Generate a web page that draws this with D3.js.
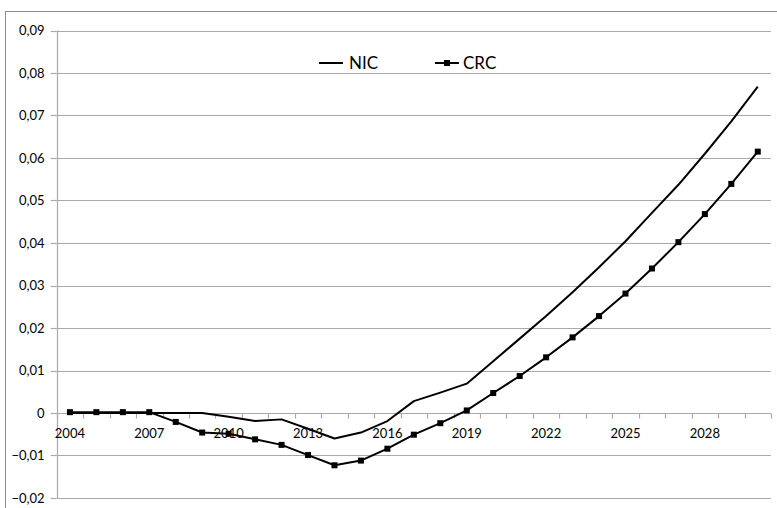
<!DOCTYPE html>
<html>
<head>
<meta charset="utf-8">
<script src="https://cdn.jsdelivr.net/npm/d3@7"></script>
<style>
  html, body { margin: 0; padding: 0; background: #fff; }
  svg { display: block; font-family: Lato, "Open Sans", sans-serif; }
</style>
</head>
<body>
<svg id="chart" width="777" height="508"></svg>
<script>
const years = d3.range(2004, 2031);
const nic = [0, 0, 0, 0, 0, 0, -0.0009, -0.0019, -0.0015, -0.0037, -0.006, -0.0046, -0.0019,
  0.0028, 0.0048, 0.0069, 0.0122, 0.0175, 0.0228, 0.0284, 0.0343, 0.0404, 0.0471,
  0.0537, 0.061, 0.0686, 0.0768];
const crc = [0.0002, 0.0002, 0.0002, 0.0002, -0.0021, -0.0046, -0.0049, -0.0062, -0.0075, -0.0099,
  -0.0123, -0.0112, -0.0084, -0.0051, -0.0024, 0.0006, 0.0047, 0.0087, 0.0131, 0.0178,
  0.0228, 0.0281, 0.034, 0.0402, 0.0468, 0.0539, 0.0615];
const yTicks = [-0.02, -0.01, 0, 0.01, 0.02, 0.03, 0.04, 0.05, 0.06, 0.07, 0.08, 0.09];
const xLabels = [2004, 2007, 2010, 2013, 2016, 2019, 2022, 2025, 2028];
const seriesNames = ["NIC", "CRC"];

const svg = d3.select("#chart");
const pLeft = 56.7, pRight = 771, pTop = 30.5, pBottom = 498;
const x = d3.scaleBand().domain(years).range([pLeft, pRight]).padding(0);
const y = d3.scaleLinear().domain([-0.02, 0.09]).range([pBottom, pTop]);
const cx = d => x(d) + x.bandwidth() / 2;
const fmt = v => v === 0 ? "0" : d3.format(".2f")(v).replace(".", ",");
const grid = "#a9a9a9";

// outer frame
svg.append("rect").attr("x", 5.5).attr("y", 11.5).attr("width", 800).attr("height", 520)
  .attr("fill", "none").attr("stroke", "#8c8c8c").attr("stroke-width", 1);

// gridlines
svg.append("g").selectAll("line").data(yTicks).join("line")
  .attr("x1", pLeft).attr("x2", pRight)
  .attr("y1", d => Math.round(y(d)) + 0.5).attr("y2", d => Math.round(y(d)) + 0.5)
  .attr("stroke", grid).attr("stroke-width", 1.2);

// y axis
const yAxis = svg.append("g");
yAxis.append("line").attr("x1", Math.round(pLeft) + 0.5).attr("x2", Math.round(pLeft) + 0.5)
  .attr("y1", y(0.09)).attr("y2", y(-0.02)).attr("stroke", grid).attr("stroke-width", 1.2);
yAxis.selectAll("line.tk").data(yTicks).join("line").attr("class", "tk")
  .attr("x1", pLeft - 6).attr("x2", pLeft)
  .attr("y1", d => Math.round(y(d)) + 0.5).attr("y2", d => Math.round(y(d)) + 0.5)
  .attr("stroke", grid).attr("stroke-width", 1.2);
yAxis.selectAll("text").data(yTicks).join("text")
  .attr("x", 44.5).attr("y", d => y(d)).attr("dy", "0.35em")
  .attr("text-anchor", "end").attr("font-size", 13).attr("fill", "#000")
  .text(fmt);

// x axis at zero
const y0 = Math.round(y(0)) + 0.5;
const xAxis = svg.append("g");
xAxis.append("line").attr("x1", pLeft).attr("x2", pRight).attr("y1", y0).attr("y2", y0)
  .attr("stroke", grid).attr("stroke-width", 1.2);
const bounds = years.map(d => x(d)).concat([pRight]);
xAxis.selectAll("line.tk").data(bounds).join("line").attr("class", "tk")
  .attr("x1", d => Math.round(d) + 0.5).attr("x2", d => Math.round(d) + 0.5)
  .attr("y1", y0).attr("y2", y0 + 5)
  .attr("stroke", grid).attr("stroke-width", 1.2);
xAxis.selectAll("text").data(xLabels).join("text")
  .attr("x", d => cx(d)).attr("y", y0 + 24)
  .attr("text-anchor", "middle").attr("font-size", 13).attr("fill", "#000")
  .text(d => d);

// lines
const line = d3.line().x((d, i) => cx(years[i])).y(d => y(d));
svg.append("path").datum(nic).attr("d", line)
  .attr("fill", "none").attr("stroke", "#000").attr("stroke-width", 2).attr("stroke-linejoin", "round");
svg.append("path").datum(crc).attr("d", line)
  .attr("fill", "none").attr("stroke", "#000").attr("stroke-width", 2).attr("stroke-linejoin", "round");
svg.append("g").selectAll("rect").data(crc).join("rect")
  .attr("x", (d, i) => cx(years[i]) - 3).attr("y", d => y(d) - 3)
  .attr("width", 6).attr("height", 6).attr("fill", "#000");

// legend
const lg = svg.append("g");
const ly = 63;
lg.append("line").attr("x1", 319).attr("x2", 343).attr("y1", ly).attr("y2", ly)
  .attr("stroke", "#000").attr("stroke-width", 2);
lg.append("text").attr("x", 349).attr("y", ly).attr("dy", "0.36em")
  .attr("font-size", 17).text(seriesNames[0]);
lg.append("line").attr("x1", 435).attr("x2", 459).attr("y1", ly).attr("y2", ly)
  .attr("stroke", "#000").attr("stroke-width", 2);
lg.append("rect").attr("x", 444).attr("y", ly - 3).attr("width", 6).attr("height", 6).attr("fill", "#000");
lg.append("text").attr("x", 463).attr("y", ly).attr("dy", "0.36em")
  .attr("font-size", 17).text(seriesNames[1]);
</script>
</body>
</html>
